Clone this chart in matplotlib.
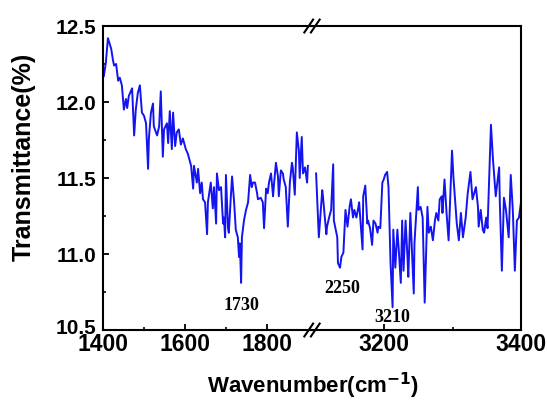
import matplotlib
matplotlib.use("Agg")
import matplotlib.pyplot as plt
from matplotlib.ticker import FixedLocator
from matplotlib.transforms import ScaledTranslation

# ---- data ----
wn_low = [1402, 1407, 1412, 1420, 1424, 1427, 1432, 1437, 1441, 1446, 1451, 1456, 1459, 1463,
          1471, 1476, 1480, 1485, 1490, 1495, 1500, 1505, 1510, 1512, 1517, 1522, 1524, 1532,
          1537, 1541, 1546, 1549, 1556, 1559, 1563, 1568, 1571, 1576, 1580, 1585, 1590, 1595,
          1602, 1607, 1615, 1620, 1622, 1629, 1632, 1637, 1641, 1644, 1649, 1654, 1656, 1663,
          1668, 1671, 1676, 1678, 1683, 1688, 1693, 1695, 1698, 1700, 1705, 1707, 1712, 1715,
          1720, 1724, 1729, 1732, 1734, 1737, 1739, 1744, 1749, 1754, 1759, 1763, 1766, 1771,
          1776, 1778, 1785, 1790, 1793, 1798, 1802, 1805, 1810, 1815, 1817, 1822, 1827, 1829,
          1834, 1839, 1841, 1846, 1851, 1856, 1861, 1863, 1868, 1873, 1878, 1880, 1885, 1888,
          1893, 1898, 1900]
tr_low = [12.17, 12.26, 12.42, 12.35, 12.28, 12.24, 12.25, 12.14, 12.16, 12.11, 11.95, 12.02,
          11.96, 12.04, 12.09, 11.78, 11.95, 12.06, 12.11, 11.93, 11.91, 11.86, 11.56, 11.76,
          11.93, 11.99, 11.84, 11.78, 11.84, 12.07, 11.64, 11.82, 11.86, 11.73, 11.94, 11.69,
          11.93, 11.71, 11.80, 11.82, 11.72, 11.76, 11.69, 11.66, 11.58, 11.43, 11.58, 11.47,
          11.56, 11.40, 11.47, 11.36, 11.34, 11.13, 11.34, 11.47, 11.30, 11.44, 11.20, 11.53,
          11.42, 11.44, 11.20, 11.24, 11.11, 11.52, 11.17, 11.14, 11.38, 11.51, 11.34, 11.16,
          11.11, 10.98, 11.07, 10.81, 11.11, 11.22, 11.29, 11.34, 11.52, 11.44, 11.47, 11.47,
          11.40, 11.36, 11.37, 11.34, 11.17, 11.43, 11.40, 11.47, 11.53, 11.38, 11.45, 11.60,
          11.51, 11.38, 11.55, 11.53, 11.49, 11.44, 11.18, 11.47, 11.60, 11.57, 11.39, 11.80,
          11.68, 11.50, 11.77, 11.53, 11.57, 11.47, 11.58]

wn_high = [3100, 3104, 3109, 3110, 3115, 3116, 3119, 3122, 3125, 3126, 3131, 3132, 3135, 3137,
           3140, 3143, 3146, 3149, 3151, 3154, 3156, 3159, 3162, 3163, 3168, 3169, 3172, 3175,
           3176, 3179, 3182, 3184, 3187, 3190, 3191, 3194, 3197, 3199, 3201, 3204, 3206, 3209,
           3212, 3213, 3216, 3219, 3221, 3224, 3226, 3228, 3231, 3234, 3235, 3238, 3243, 3244,
           3249, 3250, 3253, 3256, 3259, 3263, 3265, 3268, 3271, 3274, 3276, 3279, 3281, 3284,
           3285, 3288, 3291, 3294, 3299, 3301, 3306, 3309, 3312, 3315, 3319, 3322, 3326, 3329,
           3334, 3337, 3338, 3341, 3344, 3346, 3349, 3351, 3356, 3359, 3363, 3368, 3369, 3372,
           3375, 3378, 3382, 3385, 3388, 3391, 3394, 3397, 3400]
tr_high = [11.53, 11.11, 11.42, 11.38, 11.13, 11.18, 11.24, 11.29, 11.59, 11.22, 11.11, 10.94,
           10.91, 10.98, 11.01, 11.29, 11.18, 11.31, 11.36, 11.24, 11.29, 11.24, 11.31, 11.34,
           11.03, 11.38, 11.45, 11.20, 11.22, 11.17, 11.06, 11.22, 11.20, 11.14, 11.18, 11.17,
           11.47, 11.49, 11.52, 11.54, 11.44, 10.94, 10.65, 11.16, 10.91, 11.16, 11.03, 10.81,
           11.22, 10.89, 11.22, 10.96, 10.85, 11.27, 10.74, 11.07, 11.44, 11.29, 11.31, 11.24,
           10.68, 11.31, 11.14, 11.18, 11.09, 11.22, 11.27, 11.22, 11.36, 11.38, 11.27, 11.49,
           11.27, 11.09, 11.68, 11.51, 11.20, 11.09, 11.27, 11.11, 11.24, 11.40, 11.54, 11.36,
           11.44, 11.31, 11.18, 11.29, 11.16, 11.14, 11.24, 11.17, 11.85, 11.62, 11.38, 11.57,
           11.34, 10.89, 11.37, 11.29, 11.11, 11.52, 11.29, 10.89, 11.22, 11.24, 11.34]

xticks_low = [1400, 1600, 1800]
xticks_high = [3200, 3400]
yticks = [10.5, 11.0, 11.5, 12.0, 12.5]
peak_labels = ["1730", "2250", "3210"]

# ---- figure ----
plt.rcParams['font.family'] = ['Liberation Sans', 'DejaVu Sans']
fig = plt.figure(figsize=(5.47, 4.01), dpi=100)
L, R, B, T = 103/547, 521/547, 1-330/401, 1-26/401
mid = 312/547
ax1 = fig.add_axes([L, B, mid-L, T-B])
ax2 = fig.add_axes([mid, B, R-mid, T-B])

line_color = '#1414f0'
ax1.plot(wn_low, tr_low, color=line_color, lw=1.4)
ax2.plot(wn_high, tr_high, color=line_color, lw=1.4)

ax1.set_xlim(1400, 1910)
ax2.set_xlim(3094, 3400)
for ax in (ax1, ax2):
    ax.set_ylim(10.5, 12.5)
    for s in ax.spines.values():
        s.set_linewidth(1.5)

ax1.spines['right'].set_visible(False)
ax2.spines['left'].set_visible(False)

ax1.xaxis.set_major_locator(FixedLocator(xticks_low))
ax1.xaxis.set_minor_locator(FixedLocator([1500, 1700]))
ax2.xaxis.set_major_locator(FixedLocator(xticks_high))
ax2.xaxis.set_minor_locator(FixedLocator([3300]))
ax1.yaxis.set_major_locator(FixedLocator(yticks))
ax1.yaxis.set_minor_locator(FixedLocator([10.75, 11.25, 11.75, 12.25]))
ax1.set_yticklabels([f"{v:.1f}" for v in yticks])

xtick_font = dict(weight='bold', size=16.5)
for ax, ticks in ((ax1, xticks_low), (ax2, xticks_high)):
    ax.set_xticklabels([str(t) for t in ticks], fontdict=xtick_font)
    ax.tick_params(axis='both', which='major', direction='in', length=4, width=1.3,
                   pad=2.5, top=False, right=False)
    ax.tick_params(axis='both', which='minor', direction='in', length=2.5, width=1.2,
                   top=False, right=False)
ax1.tick_params(axis='y', pad=5, labelsize=15)
for lbl in ax1.get_yticklabels():
    lbl.set_fontweight('bold')
ax2.tick_params(axis='y', which='both', left=False, right=False, labelleft=False)

# lift the lowest y label slightly, as in the reference
lowest = ax1.yaxis.get_major_ticks()[0].label1
lowest.set_transform(lowest.get_transform() + ScaledTranslation(0, 4/100, fig.dpi_scale_trans))

fig.text(24/547, 1-157/401, "Transmittance(%)", rotation=90, ha='center', va='center',
         fontsize=18, fontweight='bold')
fig.text(313/547, 1-393/401, "Wavenumber(cm$^{\\mathbf{-1}}$)", ha='center',
         va='baseline', fontsize=16, fontweight='bold')

# peak annotations
ann = dict(ha='center', va='center', fontsize=13, fontweight='bold', family='Liberation Serif')
ax1.text(1737, 10.66, peak_labels[0], **ann)
ax2.text(3138, 10.77, peak_labels[1], **ann)
ax2.text(3212, 10.585, peak_labels[2], **ann)

# break marks "//"
for yb in (B, T):
    for dx in (-0.006, 0.006):
        xc = mid + dx
        fig.add_artist(plt.Line2D([xc-0.008, xc+0.008], [yb-0.016, yb+0.016],
                                  color='black', lw=1.5, transform=fig.transFigure))

fig.savefig("out.png", dpi=100)
